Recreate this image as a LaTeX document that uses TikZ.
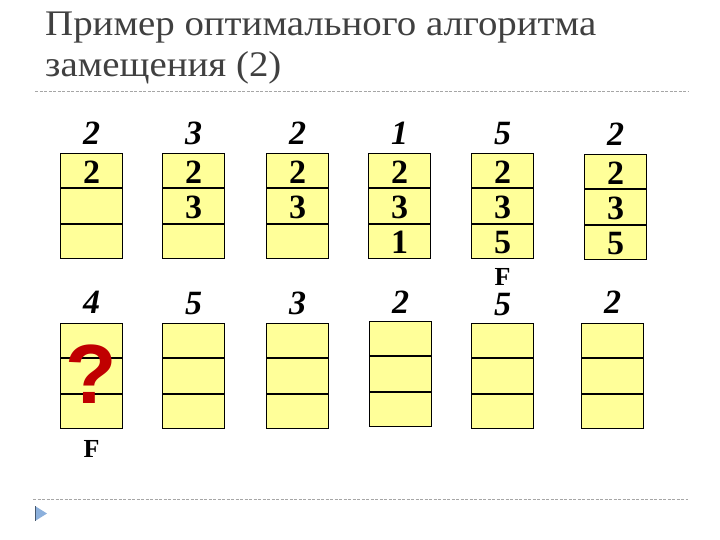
\documentclass[tikz,border=0pt]{standalone}
\usepackage{fontspec}
\setmainfont{Liberation Serif}
\newfontfamily\qfont{Liberation Sans}
\newfontfamily\titlefont[FakeStretch=1.08]{Liberation Serif}
\definecolor{cellfill}{HTML}{FFFF99}
\definecolor{titlegray}{HTML}{404040}
\definecolor{qred}{HTML}{C00000}
\definecolor{tri}{HTML}{8CB0DC}
\begin{document}
\begin{tikzpicture}[x=1pt,y=-1pt,
  cell/.style={draw=black,line width=1pt,fill=cellfill,minimum width=62pt,minimum height=34.3pt,inner sep=0pt,
    font=\fontsize{34}{34}\selectfont\bfseries,text height=25pt,text depth=0pt,anchor=north west},
  req/.style={font=\fontsize{34}{34}\selectfont\bfseries\itshape,anchor=base},
  flag/.style={font=\fontsize{26}{26}\selectfont\bfseries,anchor=base},
  sep/.style={draw=gray!70,line width=0.8pt,dash pattern=on 3pt off 1.5pt}]
\useasboundingbox (0,0) rectangle (720,540);
% title
\node[anchor=base west,inner sep=0pt,text=titlegray,font=\titlefont\fontsize{36}{41}\selectfont] (title1) at (45,36) {Пример оптимального алгоритма};
\node[anchor=base west,inner sep=0pt,text=titlegray,font=\titlefont\fontsize{36}{41}\selectfont] (title2) at (45,77) {замещения (2)};
\coordinate (l1a) at (35,91); \coordinate (l1b) at (688,91);
\draw[sep] (l1a) -- (l1b);
\coordinate (l2a) at (33,499); \coordinate (l2b) at (688,499);
\draw[sep] (l2a) -- (l2b);
\fill[tri] (35,506) -- (47,513.5) -- (35,521) -- cycle;
\draw[tri!50!black,line width=0.8pt] (35,506) -- (35,521);
% top row
\foreach \n/\x/\y/\r/\a/\b/\c in {1/60/153/2/2//, 2/162/153/3/2/3/, 3/266/153/2/2/3/, 4/368/153/1/2/3/1, 5/471/153/5/2/3/5, 6/584/154/2/2/3/5}{
  \node[cell] (t\n a) at (\x,\y) {\a};
  \node[cell] (t\n b) at (t\n a.south west) {\b};
  \node[cell] (t\n c) at (t\n b.south west) {\c};
  \node[req] (tr\n) at ([yshift=8pt]t\n a.north) {\r};
}
% bottom row
\foreach \n/\x/\y/\r/\g in {1/60/323/4/10, 2/162/323/5/9, 3/266/323/3/9, 4/369/321/2/8, 5/471/323/5/8, 6/581/323/2/10}{
  \node[cell] (b\n a) at (\x,\y) {};
  \node[cell] (b\n b) at (b\n a.south west) {};
  \node[cell] (b\n c) at (b\n b.south west) {};
  \node[req] (br\n) at ([yshift=\g pt]b\n a.north) {\r};
}
\node[flag] (f1) at ([yshift=-29pt]b1c.south) {F};
\node[flag] (f2) at ([yshift=38pt]b5a.north) {F};
\node[anchor=base,inner sep=0pt,text=qred,font=\fontsize{84}{84}\selectfont\qfont\bfseries] (q) at ([yshift=-28pt]b1b.center) {?};
\end{tikzpicture}
\end{document}
